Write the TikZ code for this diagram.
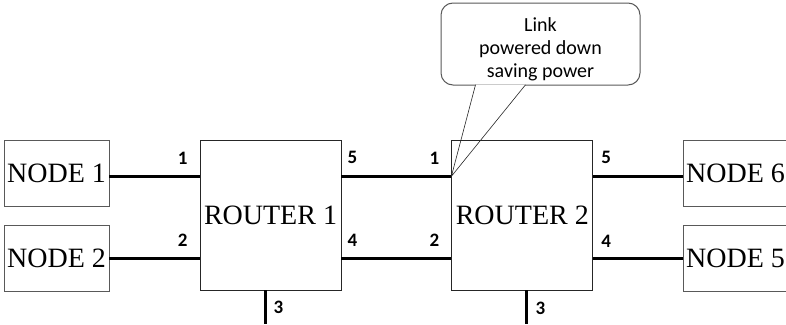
\documentclass[tikz,border=0pt]{standalone}
\usepackage{fontspec}
\setmainfont{Liberation Serif}
\newfontfamily\calibrifont{Carlito}
\usetikzlibrary{positioning,backgrounds}
\definecolor{boxgray}{HTML}{595959}
\definecolor{edgedark}{HTML}{262626}

\begin{document}
\begin{tikzpicture}[
  x=1pt, y=-1pt,
  hostbox/.style={draw=boxgray, line width=0.8pt, minimum width=105pt, minimum height=66pt, inner sep=0pt, font=\fontsize{28}{30}\selectfont},
  router/.style={draw=edgedark, line width=0.8pt, minimum width=141pt, minimum height=150pt, inner sep=0pt, font=\fontsize{28}{30}\selectfont},
  port/.style={inner sep=0pt, font=\calibrifont\bfseries\fontsize{19}{21}\selectfont},
  link/.style={line width=2.8pt},
  note/.style={draw=boxgray, line width=1pt, rounded corners=12pt, fill=white, minimum width=199pt, minimum height=82pt},
  notetext/.style={align=center, inner sep=0pt, font=\calibrifont\fontsize{20}{23}\selectfont},
  pointer/.style={draw=edgedark, line width=0.6pt, fill=white},
]
\useasboundingbox (0,0) rectangle (786,324);
\coordinate (floor) at (0,324);
% routers
\node[router] (r1) at (270.5,215) {ROUTER 1};
\node[router, right=110pt of r1] (r2) {ROUTER 2};
% end nodes
\node[hostbox] (n1) at (56.5,173.5) {NODE 1};
\node[hostbox] (n2) at (56.5,258) {NODE 2};
\node[hostbox] (n6) at (735.5,173.5) {NODE 6};
\node[hostbox] (n5) at (735.5,258) {NODE 5};
% ports
\coordinate (r1p1) at ([yshift=-36.7pt]r1.north west);
\coordinate (r1p2) at ([yshift=32.3pt]r1.south west);
\coordinate (r1p5) at ([yshift=-36.7pt]r1.north east);
\coordinate (r1p4) at ([yshift=32.3pt]r1.south east);
\coordinate (r1p3) at ([xshift=-5pt]r1.south);
\coordinate (r2p1) at ([yshift=-36.7pt]r2.north west);
\coordinate (r2p2) at ([yshift=32.3pt]r2.south west);
\coordinate (r2p5) at ([yshift=-36.7pt]r2.north east);
\coordinate (r2p4) at ([yshift=32.3pt]r2.south east);
\coordinate (r2p3) at ([xshift=4.5pt]r2.south);
% links
\draw[link] (n1.east |- r1p1) -- (r1p1);
\draw[link] (n2.east |- r1p2) -- (r1p2);
\draw[link] (r1p5) -- (r2p1);
\draw[link] (r1p4) -- (r2p2);
\draw[link] (r2p5) -- (n6.west |- r2p5);
\draw[link] (r2p4) -- (n5.west |- r2p4);
\draw[link] (r1p3) -- (r1p3 |- floor);
\draw[link] (r2p3) -- (r2p3 |- floor);
% port numbers
\node[port, above left=12pt and 12pt of r1p1] (l11) {1};
\node[port, above left=11.5pt and 12pt of r1p2] (l12) {2};
\node[port, above right=12pt and 6pt of r1p5] (l15) {5};
\node[port, above right=11pt and 6pt of r1p4] (l14) {4};
\node[port, above right=10pt and 8pt of r1p3 |- floor] (l13) {3};
\node[port, above left=12pt and 12pt of r2p1] (l21) {1};
\node[port, above left=11.5pt and 12pt of r2p2] (l22) {2};
\node[port, above right=12pt and 8pt of r2p5] (l25) {5};
\node[port, above right=10pt and 8pt of r2p4] (l24) {4};
\node[port, above right=9pt and 8.5pt of r2p3 |- floor] (l23) {3};
% callout
\begin{scope}[on background layer]
\node[note] (note) at (540.5,44) {};
\coordinate (pa) at ([xshift=35pt,yshift=0.7pt]note.south west);
\coordinate (pb) at ([xshift=85pt,yshift=0.7pt]note.south west);
\draw[pointer] (pa) -- (r2p1) -- (pb);
\end{scope}
\node[notetext] (notetxt) at ([yshift=-5pt]note.center) {Link\\powered down\\saving power};
\end{tikzpicture}
\end{document}
